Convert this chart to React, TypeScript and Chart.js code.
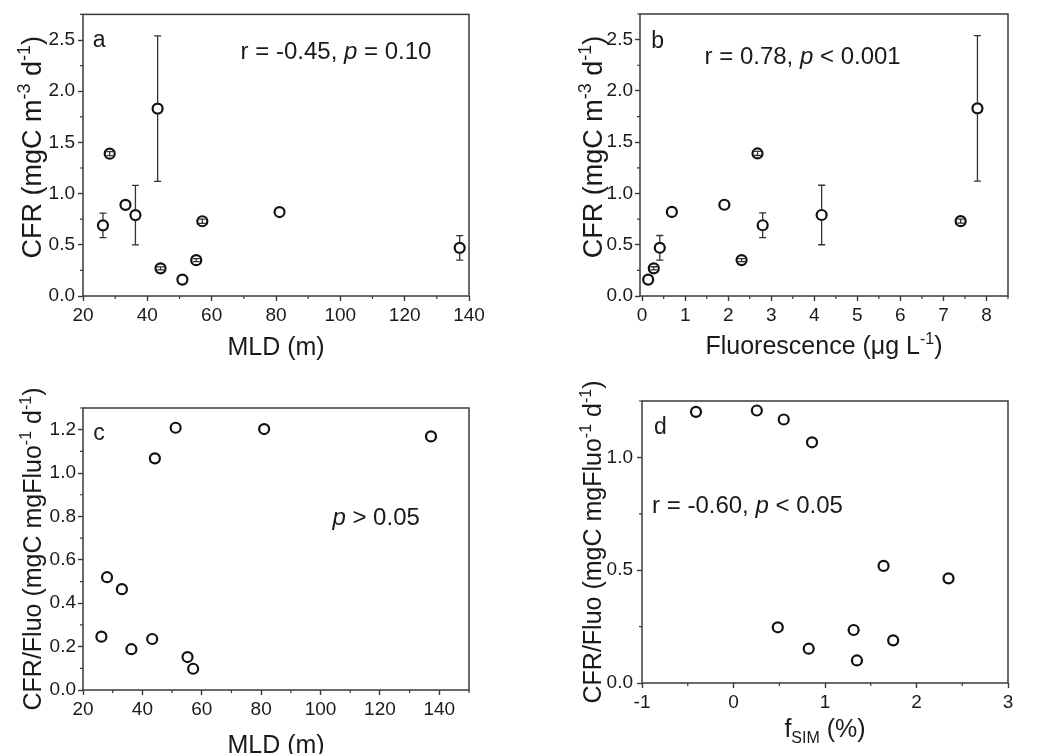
import React, { useEffect, useRef } from "react";
import { Chart, registerables } from "chart.js";
Chart.register(...registerables);

const FONT = '"Liberation Sans", Arial, Helvetica, sans-serif';
const TEXT = "#1a1a1a";
const AXIS = "#3a3a3a";

// ---- Panels a & b: CFR with error bars ----
const mld = [26.2, 28.3, 33.2, 36.3, 43.2, 44.1, 50.9, 55.2, 57.1, 81.1, 137.1];
const cfr = [0.69, 1.39, 0.89, 0.79, 1.83, 0.27, 0.16, 0.35, 0.73, 0.82, 0.47];
const cfrErr = [0.12, 0.02, 0, 0.29, 0.71, 0.015, 0, 0.015, 0.02, 0, 0.12];
const fluo = [2.8, 2.68, 1.91, 4.17, 7.79, 0.27, 0.14, 2.31, 7.4, 0.69, 0.41];

// ---- Panel c: CFR/Fluo vs MLD ----
const mldC = [26.2, 28.1, 33.1, 36.3, 43.3, 44.2, 51.2, 55.2, 57.1, 81.0, 137.2];
const ratioC = [0.246, 0.52, 0.465, 0.188, 0.235, 1.068, 1.209, 0.152, 0.098, 1.203, 1.169];

// ---- Panel d: CFR/Fluo vs fSIM ----
const fsim = [-0.41, 0.255, 0.549, 0.858, 0.484, 0.822, 1.313, 1.349, 1.64, 1.745, 2.35];
const ratioD = [1.202, 1.208, 1.168, 1.067, 0.247, 0.152, 0.235, 0.1, 0.519, 0.189, 0.464];

// ---- Major tick values ----
const ticksMLD = [20, 40, 60, 80, 100, 120, 140];
const ticksCFR = [0, 0.5, 1, 1.5, 2, 2.5];
const ticksFluo = [0, 1, 2, 3, 4, 5, 6, 7, 8];
const ticksRatioC = [0, 0.2, 0.4, 0.6, 0.8, 1.0, 1.2];
const ticksFsim = [-1, 0, 1, 2, 3];
const ticksRatioD = [0, 0.5, 1.0];

type Seg = { t: string; it?: boolean; sup?: boolean; sub?: boolean };
type Axis = { min: number; max: number; ticks: number[]; minor: number; dec: number; pad: number };
type Cfg = {
  id: string;
  canvas: { left: number; top: number; w: number; h: number };
  area: { left: number; top: number; right: number; bottom: number };
  x: Axis;
  y: Axis;
  xs: number[];
  ys: number[];
  errs?: number[];
  xTitle: Seg[];
  yTitle: Seg[];
  yTitleSize: number;
  yTitleShift: number;
  xTitleOff: number;
  yTitleOff: number;
  letter: { t: string; x: number; y: number };
  note: { segs: Seg[]; x: number; y: number };
};

const yTitleCFR: Seg[] = [
  { t: "CFR (mgC m" },
  { t: "-3", sup: true },
  { t: " d" },
  { t: "-1", sup: true },
  { t: ")" },
];
const yTitleRatio: Seg[] = [
  { t: "CFR/Fluo (mgC mgFluo" },
  { t: "-1", sup: true },
  { t: " d" },
  { t: "-1", sup: true },
  { t: ")" },
];

const panels: Cfg[] = [
  {
    id: "a",
    canvas: { left: 0, top: 0, w: 520, h: 370 },
    area: { left: 83, top: 14, right: 469, bottom: 296 },
    x: { min: 20, max: 140, ticks: ticksMLD, minor: 10, dec: 0, pad: 3 },
    y: { min: 0, max: 2.75, ticks: ticksCFR, minor: 0.25, dec: 1, pad: 3 },
    xs: mld,
    ys: cfr,
    errs: cfrErr,
    xTitle: [{ t: "MLD (m)" }],
    yTitle: yTitleCFR,
    yTitleSize: 27,
    yTitleShift: -8,
    xTitleOff: 50,
    yTitleOff: 52,
    letter: { t: "a", x: 25, y: 2.51 },
    note: { segs: [{ t: "r = -0.45, " }, { t: "p", it: true }, { t: " = 0.10" }], x: 69, y: 2.4 },
  },
  {
    id: "b",
    canvas: { left: 520, top: 0, w: 529, h: 370 },
    area: { left: 640, top: 14, right: 1008, bottom: 296 },
    x: { min: -0.05, max: 8.5, ticks: ticksFluo, minor: 0.5, dec: 0, pad: 3 },
    y: { min: 0, max: 2.75, ticks: ticksCFR, minor: 0.25, dec: 1, pad: 2 },
    xs: fluo,
    ys: cfr,
    errs: cfrErr,
    xTitle: [{ t: "Fluorescence (\u03bcg L" }, { t: "-1", sup: true }, { t: ")" }],
    yTitle: yTitleCFR,
    yTitleSize: 27,
    yTitleShift: -8,
    xTitleOff: 49,
    yTitleOff: 48,
    letter: { t: "b", x: 0.36, y: 2.5 },
    note: { segs: [{ t: "r = 0.78, " }, { t: "p", it: true }, { t: " < 0.001" }], x: 1.45, y: 2.35 },
  },
  {
    id: "c",
    canvas: { left: 0, top: 360, w: 520, h: 394 },
    area: { left: 83, top: 408, right: 469, bottom: 690 },
    x: { min: 20, max: 150, ticks: ticksMLD, minor: 10, dec: 0, pad: 3 },
    y: { min: 0, max: 1.3, ticks: ticksRatioC, minor: 0.1, dec: 1, pad: 2 },
    xs: mldC,
    ys: ratioC,
    xTitle: [{ t: "MLD (m)" }],
    yTitle: yTitleRatio,
    yTitleSize: 25,
    yTitleShift: 0,
    xTitleOff: 54,
    yTitleOff: 51,
    letter: { t: "c", x: 25.4, y: 1.19 },
    note: { segs: [{ t: "p", it: true }, { t: " > 0.05" }], x: 104, y: 0.8 },
  },
  {
    id: "d",
    canvas: { left: 520, top: 360, w: 529, h: 394 },
    area: { left: 642, top: 401, right: 1008, bottom: 683 },
    x: { min: -1, max: 3, ticks: ticksFsim, minor: 0.5, dec: 0, pad: 3 },
    y: { min: 0, max: 1.25, ticks: ticksRatioD, minor: 0.25, dec: 1, pad: 4 },
    xs: fsim,
    ys: ratioD,
    xTitle: [{ t: "f" }, { t: "SIM", sub: true }, { t: " (%)" }],
    yTitle: yTitleRatio,
    yTitleSize: 25,
    yTitleShift: 0,
    xTitleOff: 45,
    yTitleOff: 50,
    letter: { t: "d", x: -0.8, y: 1.14 },
    note: { segs: [{ t: "r = -0.60, " }, { t: "p", it: true }, { t: " < 0.05" }], x: -0.89, y: 0.79 },
  },
];

function segFont(s: Seg, size: number) {
  const sz = s.sup || s.sub ? Math.round(size * 0.65) : size;
  return `${s.it ? "italic " : ""}${sz}px ${FONT}`;
}

function drawRich(
  ctx: CanvasRenderingContext2D,
  segs: Seg[],
  x: number,
  y: number,
  size: number,
  align: "left" | "center",
  rotate: boolean
) {
  ctx.save();
  ctx.translate(x, y);
  if (rotate) ctx.rotate(-Math.PI / 2);
  let w = 0;
  const widths = segs.map((s) => {
    ctx.font = segFont(s, size);
    const m = ctx.measureText(s.t).width;
    w += m;
    return m;
  });
  let cx = align === "center" ? -w / 2 : 0;
  ctx.textBaseline = "alphabetic";
  ctx.textAlign = "left";
  ctx.fillStyle = TEXT;
  const base = size * 0.36;
  segs.forEach((s, i) => {
    ctx.font = segFont(s, size);
    const dy = s.sup ? -size * 0.4 : s.sub ? size * 0.22 : 0;
    ctx.fillText(s.t, cx, base + dy);
    cx += widths[i];
  });
  ctx.restore();
}

const isOn = (v: number, step: number) => Math.abs(v / step - Math.round(v / step)) < 1e-6;

const deco = {
  id: "deco",
  afterDatasetsDraw(chart: any, _args: any, opts: any) {
    const cfg: Cfg = opts.cfg;
    const ctx: CanvasRenderingContext2D = chart.ctx;
    const xs = chart.scales.x;
    const ys = chart.scales.y;
    if (cfg.errs) {
      const r = 5;
      ctx.save();
      ctx.strokeStyle = "#333";
      ctx.lineWidth = 1.3;
      cfg.errs.forEach((e, i) => {
        if (!e) return;
        const px = xs.getPixelForValue(cfg.xs[i]);
        const py = ys.getPixelForValue(cfg.ys[i]);
        const hi = ys.getPixelForValue(cfg.ys[i] + e);
        const lo = ys.getPixelForValue(cfg.ys[i] - e);
        ctx.beginPath();
        if (py - hi <= r) {
          ctx.moveTo(px, hi);
          ctx.lineTo(px, lo);
        } else {
          ctx.moveTo(px, hi);
          ctx.lineTo(px, py - r);
          ctx.moveTo(px, py + r);
          ctx.lineTo(px, lo);
        }
        const cw = 3.5;
        ctx.moveTo(px - cw, hi);
        ctx.lineTo(px + cw, hi);
        ctx.moveTo(px - cw, lo);
        ctx.lineTo(px + cw, lo);
        ctx.stroke();
      });
      ctx.restore();
    }
  },
  afterDraw(chart: any, _args: any, opts: any) {
    const cfg: Cfg = opts.cfg;
    const ctx: CanvasRenderingContext2D = chart.ctx;
    const a = chart.chartArea;
    const xs = chart.scales.x;
    const ys = chart.scales.y;
    ctx.save();
    ctx.strokeStyle = AXIS;
    ctx.lineWidth = 1.5;
    ctx.strokeRect(a.left, a.top, a.right - a.left, a.bottom - a.top);
    ctx.lineWidth = 1.2;
    const xStep = cfg.x.ticks[1] - cfg.x.ticks[0];
    const yStep = cfg.y.ticks[1] - cfg.y.ticks[0];
    ctx.beginPath();
    const kx0 = Math.ceil(cfg.x.min / cfg.x.minor - 1e-9);
    for (let k = kx0; k * cfg.x.minor <= cfg.x.max + 1e-9; k++) {
      const v = k * cfg.x.minor;
      if (isOn(v, xStep)) continue;
      const p = xs.getPixelForValue(v);
      ctx.moveTo(p, a.bottom);
      ctx.lineTo(p, a.bottom + 3);
    }
    const ky0 = Math.ceil(cfg.y.min / cfg.y.minor - 1e-9);
    for (let k = ky0; k * cfg.y.minor <= cfg.y.max + 1e-9; k++) {
      const v = k * cfg.y.minor;
      if (isOn(v, yStep)) continue;
      const p = ys.getPixelForValue(v);
      ctx.moveTo(a.left, p);
      ctx.lineTo(a.left - 3, p);
    }
    ctx.stroke();
    ctx.restore();
    drawRich(ctx, cfg.xTitle, (a.left + a.right) / 2, a.bottom + cfg.xTitleOff, 25, "center", false);
    drawRich(
      ctx,
      cfg.yTitle,
      a.left - cfg.yTitleOff,
      (a.top + a.bottom) / 2 + cfg.yTitleShift,
      cfg.yTitleSize,
      "center",
      true
    );
    drawRich(
      ctx,
      [{ t: cfg.letter.t }],
      xs.getPixelForValue(cfg.letter.x),
      ys.getPixelForValue(cfg.letter.y),
      23,
      "center",
      false
    );
    drawRich(
      ctx,
      cfg.note.segs,
      xs.getPixelForValue(cfg.note.x),
      ys.getPixelForValue(cfg.note.y),
      24,
      "left",
      false
    );
  },
};

function axisOpts(ax: Axis, fit: (s: any) => void) {
  return {
    type: "linear" as const,
    min: ax.min,
    max: ax.max,
    bounds: "data" as const,
    afterFit: fit,
    afterBuildTicks: (s: any) => {
      s.ticks = ax.ticks.filter((v) => v >= ax.min - 1e-9 && v <= ax.max + 1e-9).map((v) => ({ value: v }));
    },
    ticks: {
      autoSkip: false,
      maxRotation: 0,
      padding: ax.pad,
      color: TEXT,
      font: { family: FONT, size: 19 },
      callback: (v: any) => Number(v).toFixed(ax.dec),
    },
    grid: {
      drawOnChartArea: false,
      drawTicks: true,
      tickLength: 5,
      tickColor: AXIS,
      tickWidth: 1.4,
    },
    border: { display: false },
  };
}

function Panel({ cfg }: { cfg: Cfg }) {
  const ref = useRef<HTMLCanvasElement>(null);
  useEffect(() => {
    const c = cfg.canvas;
    const ar = cfg.area;
    const chart = new Chart(ref.current as HTMLCanvasElement, {
      type: "scatter",
      data: {
        datasets: [
          {
            data: cfg.xs.map((x, i) => ({ x, y: cfg.ys[i] })),
            pointRadius: 5,
            pointHoverRadius: 5,
            pointBorderWidth: 2.2,
            pointBackgroundColor: "#ffffff",
            pointBorderColor: "#111111",
            showLine: false,
          },
        ],
      },
      options: {
        responsive: false,
        animation: false,
        events: [],
        layout: {
          padding: { top: ar.top - c.top, right: c.left + c.w - ar.right, left: 0, bottom: 0 },
        },
        plugins: {
          legend: { display: false },
          tooltip: { enabled: false },
          deco: { cfg },
        } as any,
        scales: {
          x: axisOpts(cfg.x, (s: any) => {
            s.height = c.top + c.h - ar.bottom;
          }),
          y: axisOpts(cfg.y, (s: any) => {
            s.width = ar.left - c.left;
          }),
        } as any,
      },
      plugins: [deco as any],
    });
    return () => chart.destroy();
  }, []);
  return (
    <canvas
      ref={ref}
      width={cfg.canvas.w}
      height={cfg.canvas.h}
      style={{
        position: "absolute",
        left: cfg.canvas.left,
        top: cfg.canvas.top,
        width: cfg.canvas.w,
        height: cfg.canvas.h,
      }}
    />
  );
}

export default function App() {
  return (
    <div
      style={{
        position: "absolute",
        left: 0,
        top: 0,
        width: 1049,
        height: 754,
        background: "#ffffff",
        overflow: "hidden",
      }}
    >
      {panels.map((p) => (
        <Panel key={p.id} cfg={p} />
      ))}
    </div>
  );
}
